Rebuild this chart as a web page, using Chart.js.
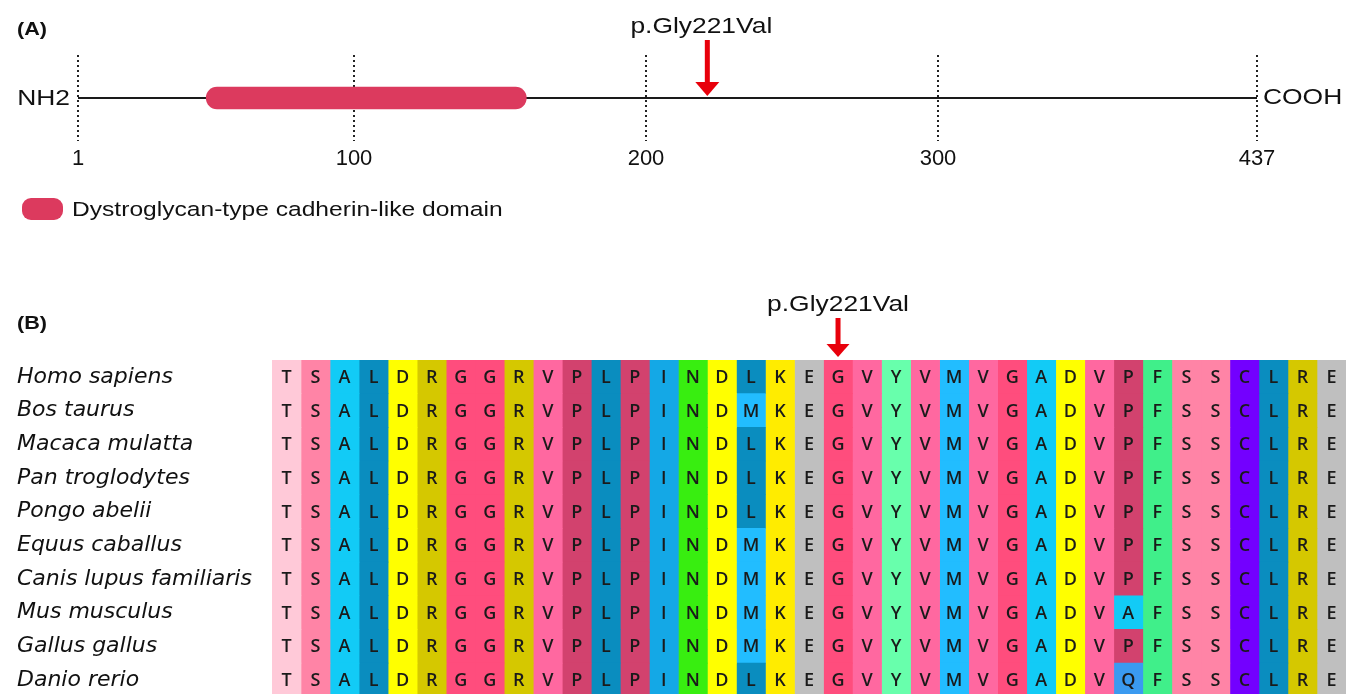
<!DOCTYPE html>
<html>
<head>
<meta charset="utf-8">
<script src="https://cdn.jsdelivr.net/npm/chart.js@4.4.0/dist/chart.umd.min.js"></script>
<style>
  html, body { margin: 0; padding: 0; background: #fff; overflow: hidden; }
  #wrap { position: relative; width: 1357px; height: 694px; }
  canvas { position: absolute; left: 0; }
  #panelA { top: 0; }
  #panelB { top: 260px; }
</style>
</head>
<body>
<div id="wrap">
  <canvas id="panelA" width="1357" height="260"></canvas>
  <canvas id="panelB" width="1357" height="450"></canvas>
</div>
<script>
// --- panel A: protein schema ---
const proteinStart = 1;
const proteinEnd = 437;
const positionTicks = [1, 100, 200, 300, 437];
const domainName = "Dystroglycan-type cadherin-like domain";
const domainRange = [47, 159];
const mutationLabel = "p.Gly221Val";
const mutationPos = 221;

// --- panel B: alignment ---
const alignStart = 202; // residue number of the first column
const species = [
  "Homo sapiens", "Bos taurus", "Macaca mulatta", "Pan troglodytes", "Pongo abelii",
  "Equus caballus", "Canis lupus familiaris", "Mus musculus", "Gallus gallus", "Danio rerio"
];
const sequences = [
  "TSALDRGGRVPLPINDLKEGVYVMVGADVPFSSCLRE",
  "TSALDRGGRVPLPINDMKEGVYVMVGADVPFSSCLRE",
  "TSALDRGGRVPLPINDLKEGVYVMVGADVPFSSCLRE",
  "TSALDRGGRVPLPINDLKEGVYVMVGADVPFSSCLRE",
  "TSALDRGGRVPLPINDLKEGVYVMVGADVPFSSCLRE",
  "TSALDRGGRVPLPINDMKEGVYVMVGADVPFSSCLRE",
  "TSALDRGGRVPLPINDMKEGVYVMVGADVPFSSCLRE",
  "TSALDRGGRVPLPINDMKEGVYVMVGADVAFSSCLRE",
  "TSALDRGGRVPLPINDMKEGVYVMVGADVPFSSCLRE",
  "TSALDRGGRVPLPINDLKEGVYVMVGADVQFSSCLRE"
];

// residue colours (zappo-like scheme of the figure)
const residueColor = {
  T: "#ffc9d8", S: "#ff84a6", A: "#12cbf6", L: "#0a8dbf", D: "#ffff00",
  R: "#d5c800", G: "#ff4d7d", V: "#ff68a0", P: "#d2426e", I: "#14a8e6",
  N: "#38ee10", M: "#22bdff", K: "#ffec00", E: "#bfbfbf", Y: "#68ffac",
  F: "#40ef8a", C: "#7300ff", Q: "#3a9af0"
};
const arrowRed = "#e8000b";
const domainColor = "#dc3a5e";

// stretched text, the figure was widened a bit
function wideText(ctx, txt, x, y, font, align, base) {
  ctx.save();
  ctx.font = font;
  ctx.fillStyle = "#111";
  ctx.textAlign = align || "left";
  ctx.textBaseline = base || "alphabetic";
  ctx.translate(x, y);
  ctx.scale(1.2, 1);
  ctx.fillText(txt, 0, 0);
  ctx.restore();
}

function drawArrow(ctx, x, top, tip, headW, headH) {
  ctx.save();
  ctx.fillStyle = arrowRed;
  ctx.fillRect(x - 2.5, top, 5, tip - top - headH + 2);
  ctx.beginPath();
  ctx.moveTo(x - headW / 2, tip - headH);
  ctx.lineTo(x + headW / 2, tip - headH);
  ctx.lineTo(x, tip);
  ctx.closePath();
  ctx.fill();
  ctx.restore();
}

// schematic axis: the segments between the ticks are not drawn to scale
class PiecewiseScale extends Chart.LinearScale {
  getPixelForValue(v) {
    const br = this.options.breaks, w = this.options.weights;
    const total = w.reduce((a, b) => a + b, 0);
    let acc = 0;
    for (let i = 0; i < w.length; i++) {
      if (v <= br[i + 1] || i === w.length - 1) {
        const f = (acc + w[i] * (v - br[i]) / (br[i + 1] - br[i])) / total;
        return this.getPixelForDecimal(f);
      }
      acc += w[i];
    }
  }
}
PiecewiseScale.id = "piecewise";
PiecewiseScale.defaults = Chart.LinearScale.defaults;
Chart.register(PiecewiseScale);

const proteinDecor = {
  id: "proteinDecor",
  afterDraw(chart) {
    const ctx = chart.ctx;
    const x = chart.scales.x;
    const midY = (chart.chartArea.top + chart.chartArea.bottom) / 2;
    wideText(ctx, "(A)", 17, 35, "bold 18px 'Liberation Sans', Arial", "left");
    wideText(ctx, "NH2", x.getPixelForValue(proteinStart) - 8, midY + 1, "22px 'Liberation Sans', Arial", "right", "middle");
    wideText(ctx, "COOH", x.getPixelForValue(proteinEnd) + 6, midY, "22px 'Liberation Sans', Arial", "left", "middle");
    const xm = x.getPixelForValue(mutationPos);
    wideText(ctx, mutationLabel, xm - 6, 33, "22px 'Liberation Sans', Arial", "center");
    drawArrow(ctx, xm, 40, 96, 24, 14);
    // legend
    ctx.save();
    ctx.fillStyle = domainColor;
    ctx.beginPath();
    ctx.roundRect(22, 198, 41, 22, 9);
    ctx.fill();
    ctx.restore();
    wideText(ctx, domainName, 72, 210, "20.5px 'Liberation Sans', Arial", "left", "middle");
  }
};

new Chart(document.getElementById("panelA"), {
  type: "bar",
  data: {
    datasets: [
      {
        label: domainName,
        indexAxis: "y",
        data: [{ x: domainRange, y: 0 }],
        backgroundColor: domainColor,
        barThickness: 22,
        borderRadius: 11,
        borderSkipped: false,
        order: 0
      },
      {
        type: "line",
        label: "protein",
        data: [{ x: proteinStart, y: 0 }, { x: proteinEnd, y: 0 }],
        borderColor: "#1a1a1a",
        borderWidth: 2,
        pointRadius: 0,
        order: 1
      }
    ]
  },
  options: {
    responsive: false,
    animation: false,
    layout: { padding: { left: 78, right: 100, top: 55, bottom: 0 } },
    plugins: { legend: { display: false }, tooltip: { enabled: false } },
    scales: {
      x: {
        type: "piecewise",
        min: proteinStart,
        max: proteinEnd,
        offset: false,
        breaks: positionTicks,
        weights: [276, 292, 292, 319],
        afterBuildTicks: s => { s.ticks = positionTicks.map(v => ({ value: v })); },
        afterFit: s => { s.height = 119; },
        grid: { color: "#222", lineWidth: 2, drawTicks: false, offset: false },
        border: { display: false, dash: [2, 3] },
        ticks: {
          padding: 5,
          color: "#111",
          font: { family: "'Liberation Sans', Arial", size: 22 },
          callback: v => String(v)
        }
      },
      y: { type: "linear", min: -1, max: 1, display: false }
    }
  },
  plugins: [proteinDecor]
});

// --- panel B ---
const nCols = sequences[0].length;
const alignDatasets = [];
for (let c = 0; c < nCols; c++) {
  alignDatasets.push({
    label: String(alignStart + c),
    data: species.map(() => 1),
    backgroundColor: sequences.map(s => residueColor[s[c]]),
    borderWidth: 0,
    categoryPercentage: 1,
    barPercentage: 1
  });
}

const alignDecor = {
  id: "alignDecor",
  afterDatasetsDraw(chart) {
    const ctx = chart.ctx;
    ctx.save();
    ctx.font = "600 18px 'Open Sans', Lato, sans-serif";
    ctx.fillStyle = "#1a1a1a";
    ctx.textAlign = "center";
    ctx.textBaseline = "middle";
    chart.data.datasets.forEach((ds, c) => {
      chart.getDatasetMeta(c).data.forEach((el, r) => {
        const p = el.getCenterPoint();
        ctx.fillText(sequences[r][c], p.x, p.y + 1);
      });
    });
    ctx.restore();
  },
  afterDraw(chart) {
    const ctx = chart.ctx;
    const xm = chart.scales.x.getPixelForValue(mutationPos - alignStart + 0.5);
    wideText(ctx, "(B)", 17, 69, "bold 18px 'Liberation Sans', Arial", "left");
    wideText(ctx, mutationLabel, xm, 51, "22px 'Liberation Sans', Arial", "center");
    drawArrow(ctx, xm, 58, 97, 23, 13);
  }
};

new Chart(document.getElementById("panelB"), {
  type: "bar",
  data: { labels: species, datasets: alignDatasets },
  options: {
    indexAxis: "y",
    responsive: false,
    animation: false,
    layout: { padding: { left: 17, right: 11, top: 100, bottom: 3 } },
    plugins: { legend: { display: false }, tooltip: { enabled: false } },
    scales: {
      x: { stacked: true, min: 0, max: nCols, display: false },
      y: {
        stacked: true,
        afterFit: s => { s.width = 255; },
        grid: { display: false },
        border: { display: false },
        ticks: {
          crossAlign: "far",
          padding: 0,
          color: "#111",
          font: { family: "'DejaVu Sans'", size: 22, style: "italic" }
        }
      }
    }
  },
  plugins: [alignDecor]
});
</script>
</body>
</html>
